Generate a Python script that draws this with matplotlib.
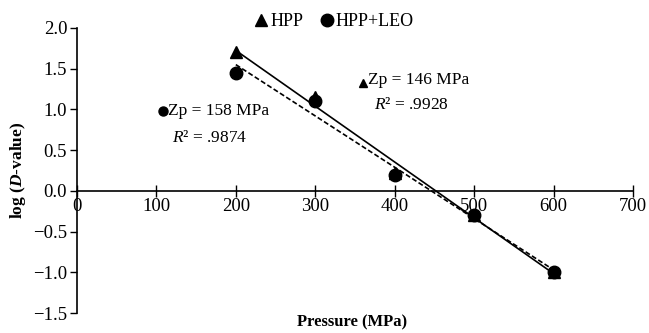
import numpy as np
import matplotlib
matplotlib.use("Agg")
import matplotlib.pyplot as plt

plt.rcParams["font.family"] = ["Liberation Serif", "DejaVu Serif"]
plt.rcParams["mathtext.fontset"] = "custom"
plt.rcParams["mathtext.rm"] = "Liberation Serif"
plt.rcParams["mathtext.it"] = "Liberation Serif:italic"
plt.rcParams["mathtext.bf"] = "Liberation Serif:bold"
plt.rcParams["mathtext.bfit"] = "Liberation Serif:bold:italic"

# Daten
druck = [200, 300, 400, 500, 600]
hpp = [1.70, 1.15, 0.22, -0.30, -1.00]
hpp_leo = [1.45, 1.10, 0.20, -0.30, -1.00]
x_ticks = [0, 100, 200, 300, 400, 500, 600, 700]
y_ticks = [-1.5, -1.0, -0.5, 0.0, 0.5, 1.0, 1.5, 2.0]

fig = plt.figure(figsize=(6.49, 3.33), dpi=100)
ax = fig.add_axes([0.1186, 0.060, 0.8567, 0.856])

# Trendlinien
x_arr = np.array(druck, dtype=float)
k1, d1 = np.polyfit(x_arr, hpp, 1)
k2, d2 = np.polyfit(x_arr, hpp_leo, 1)
x_fit = np.array([druck[0], druck[-1]], dtype=float)
ax.plot(x_fit, k1 * x_fit + d1, color="black", lw=1.2, zorder=2)
ax.plot(x_fit, k2 * x_fit + d2, color="black", lw=1.2, ls=(0, (3, 1.5)), zorder=2)

ax.plot(druck, hpp, ls="none", marker="^", ms=9, color="black", zorder=3)
ax.plot(druck, hpp_leo, ls="none", marker="o", ms=9, color="black", zorder=4)

ax.set_xlim(0, 700)
ax.set_ylim(-1.5, 2.0)
ax.set_xticks(x_ticks)
ax.set_yticks(y_ticks)
ax.set_yticklabels([f"{v:.1f}".replace("-", "\u2212") for v in y_ticks])

ax.spines["top"].set_visible(False)
ax.spines["right"].set_visible(False)
ax.spines["bottom"].set_position(("data", 0))
ax.spines["left"].set_linewidth(1.2)
ax.spines["bottom"].set_linewidth(1.2)
ax.tick_params(axis="x", direction="inout", length=8, width=1.0, labelsize=13.5, pad=1)
ax.tick_params(axis="y", direction="out", length=5, width=1.0, labelsize=13.5, pad=2)

ax.set_xlabel("Pressure (MPa)", fontsize=12, fontweight="bold")
ax.xaxis.set_label_coords(0.495, -0.005)
ax.set_ylabel(r"log ($\mathbfit{D}$-value)", fontsize=12.5, fontweight="bold", labelpad=4)

# Legende oben
ax.plot([], [], ls="none", marker="^", ms=9, color="black", label="HPP")
ax.plot([], [], ls="none", marker="o", ms=9, color="black", label="HPP+LEO")
handles, labels = ax.get_legend_handles_labels()
fig.legend(handles[-2:], labels[-2:], loc="upper center", bbox_to_anchor=(0.513, 1.01),
           ncol=2, frameon=False, fontsize=13, handletextpad=0.0, columnspacing=0.8,
           handlelength=1.0)

# Beschriftungen
ax.plot([108], [0.975], marker="o", ms=6.5, color="black", clip_on=False)
ax.text(114, 0.975, "Zp = 158 MPa", fontsize=12.5, va="center")
ax.text(120, 0.65, r"$\mathit{R}$² = .9874", fontsize=12.5, va="center")
ax.plot([360], [1.33], marker="^", ms=6, color="black")
ax.text(366, 1.36, "Zp = 146 MPa", fontsize=12.5, va="center")
ax.text(374, 1.05, r"$\mathit{R}$² = .9928", fontsize=12.5, va="center")

fig.savefig("out.png", dpi=100)
